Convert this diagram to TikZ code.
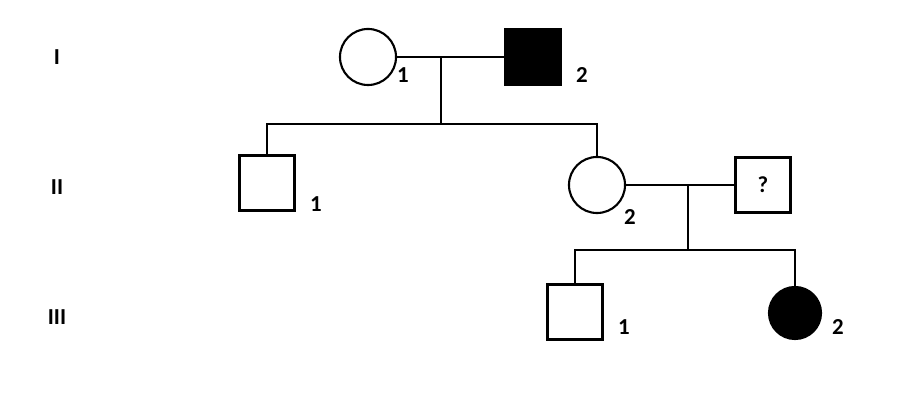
\documentclass[tikz,border=0pt]{standalone}
\usepackage{fontspec}
\setmainfont{Carlito}
\usetikzlibrary{positioning}
\tikzset{
x=0.01cm, y=-0.01cm,
every node/.style={font=\bfseries\fontsize{6.5pt}{8pt}\selectfont},
male/.style={draw, line width=0.6pt, minimum size=0.55cm, inner sep=0pt},
female/.style={draw, circle, line width=0.6pt, minimum size=0.56cm, inner sep=0pt},
affected/.style={fill=black},
link/.style={line width=0.6pt},
}
\begin{document}
\begin{tikzpicture}
\useasboundingbox (0,0) rectangle (900,407);
% generations
\node (gI) at (57,57) {I};
\node (gII) at (57,187) {II};
\node (gIII) at (57,317) {III};
% generation I
\node[female] (i1) at (368,57) {};
\node[male, affected] (i2) at (533,57) {};
\node at (403,75) {1};
\node at (582,75) {2};
% generation II
\node[male] (ii1) at (267,183) {};
\node[female] (ii2) at (597,185) {};
\node[male] (ii3) at (763,185) {?};
\node at (316,204) {1};
\node at (630,217) {2};
% generation III
\node[male] (iii1) at (575,312) {};
\node[female, affected, minimum size=0.52cm] (iii2) at (795,313) {};
\node at (624,327) {1};
\node at (838,327) {2};
% connectors
\coordinate (m1) at (441,57);
\coordinate (s1) at (441,124);
\coordinate (m2) at (688,185);
\coordinate (s2) at (688,250);
\draw[link] (i1) -- (i2);
\draw[link] (m1) -- (s1);
\draw[link] (ii1.north) |- (s1) -| (ii2.north);
\draw[link] (ii2) -- (ii3);
\draw[link] (m2) -- (s2);
\draw[link] (iii1.north) |- (s2) -| (iii2.north);
\end{tikzpicture}
\end{document}
